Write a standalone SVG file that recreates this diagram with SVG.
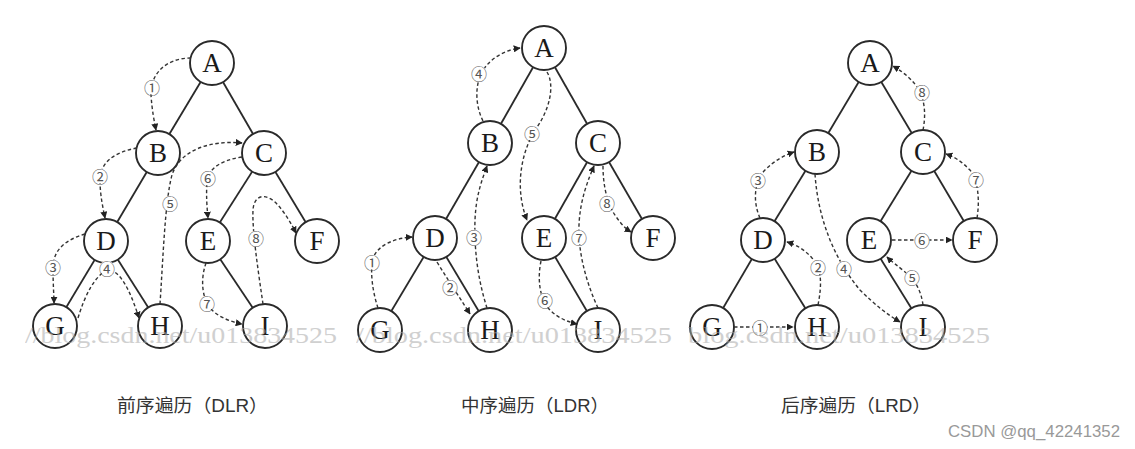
<svg xmlns="http://www.w3.org/2000/svg" width="1135" height="449" viewBox="0 0 1135 449">
<style>
.edge{stroke:#2a2a2a;stroke-width:1.8;fill:none}
.trav{stroke:#333;stroke-width:1.4;fill:none;stroke-dasharray:3.5 2.5}
.arr{marker-end:url(#ah)}
.node circle{fill:#fff;stroke:#2a2a2a;stroke-width:1.9}
.node text{font-family:"Liberation Serif","DejaVu Serif",serif;font-size:27px;fill:#1a1a1a;text-anchor:middle}
.lbl circle{fill:#fff;stroke:none}
.lbl text{font-family:"Noto Sans CJK SC","DejaVu Sans",sans-serif;font-size:16px;fill:#555;text-anchor:middle;dominant-baseline:central}
.cap{font-family:"Liberation Sans","Noto Sans CJK SC",sans-serif;font-size:18px;fill:#333}
.wm{font-family:"Liberation Serif",serif;font-size:24px;fill:#aaa;opacity:0.55}
</style>
<defs>
<marker id="ah" viewBox="0 0 10 10" refX="9" refY="5" markerWidth="7" markerHeight="7" markerUnits="userSpaceOnUse" orient="auto">
<path d="M0,0 L10,5 L0,10 z" fill="#222"/>
</marker>
</defs>

<g id="tree-edges">
<!-- tree 1 -->
<line class="edge" x1="212" y1="63" x2="158" y2="153"/>
<line class="edge" x1="212" y1="63" x2="264" y2="153"/>
<line class="edge" x1="158" y1="153" x2="106" y2="241"/>
<line class="edge" x1="264" y1="153" x2="208" y2="241"/>
<line class="edge" x1="264" y1="153" x2="317" y2="241"/>
<line class="edge" x1="106" y1="241" x2="55" y2="326"/>
<line class="edge" x1="106" y1="241" x2="160" y2="326"/>
<line class="edge" x1="208" y1="241" x2="265" y2="326"/>
<!-- tree 2 -->
<line class="edge" x1="544" y1="48" x2="490" y2="143"/>
<line class="edge" x1="544" y1="48" x2="598" y2="143"/>
<line class="edge" x1="490" y1="143" x2="435" y2="238"/>
<line class="edge" x1="598" y1="143" x2="544" y2="238"/>
<line class="edge" x1="598" y1="143" x2="653" y2="238"/>
<line class="edge" x1="435" y1="238" x2="380" y2="330"/>
<line class="edge" x1="435" y1="238" x2="490" y2="330"/>
<line class="edge" x1="544" y1="238" x2="598" y2="330"/>
<!-- tree 3 -->
<line class="edge" x1="870" y1="63" x2="817" y2="152"/>
<line class="edge" x1="870" y1="63" x2="923" y2="152"/>
<line class="edge" x1="817" y1="152" x2="763" y2="240"/>
<line class="edge" x1="923" y1="152" x2="869" y2="240"/>
<line class="edge" x1="923" y1="152" x2="975" y2="240"/>
<line class="edge" x1="763" y1="240" x2="712" y2="327"/>
<line class="edge" x1="763" y1="240" x2="817" y2="327"/>
<line class="edge" x1="869" y1="240" x2="923" y2="327"/>
</g>

<!-- tree 1 nodes -->
<g id="t1-A" class="node"><circle cx="212" cy="63" r="22"/><text x="212" y="72">A</text></g>
<g id="t1-B" class="node"><circle cx="158" cy="153" r="22"/><text x="158" y="162">B</text></g>
<g id="t1-C" class="node"><circle cx="264" cy="153" r="22"/><text x="264" y="162">C</text></g>
<g id="t1-D" class="node"><circle cx="106" cy="241" r="22"/><text x="106" y="250">D</text></g>
<g id="t1-E" class="node"><circle cx="208" cy="241" r="22"/><text x="208" y="250">E</text></g>
<g id="t1-F" class="node"><circle cx="317" cy="241" r="22"/><text x="317" y="250">F</text></g>
<g id="t1-G" class="node"><circle cx="55" cy="326" r="22"/><text x="55" y="335">G</text></g>
<g id="t1-H" class="node"><circle cx="160" cy="326" r="22"/><text x="160" y="335">H</text></g>
<g id="t1-I" class="node"><circle cx="265" cy="326" r="22"/><text x="265" y="335">I</text></g>

<!-- tree 2 nodes -->
<g id="t2-A" class="node"><circle cx="544" cy="48" r="22"/><text x="544" y="57">A</text></g>
<g id="t2-B" class="node"><circle cx="490" cy="143" r="22"/><text x="490" y="152">B</text></g>
<g id="t2-C" class="node"><circle cx="598" cy="143" r="22"/><text x="598" y="152">C</text></g>
<g id="t2-D" class="node"><circle cx="435" cy="238" r="22"/><text x="435" y="247">D</text></g>
<g id="t2-E" class="node"><circle cx="544" cy="238" r="22"/><text x="544" y="247">E</text></g>
<g id="t2-F" class="node"><circle cx="653" cy="238" r="22"/><text x="653" y="247">F</text></g>
<g id="t2-G" class="node"><circle cx="380" cy="330" r="22"/><text x="380" y="339">G</text></g>
<g id="t2-H" class="node"><circle cx="490" cy="330" r="22"/><text x="490" y="339">H</text></g>
<g id="t2-I" class="node"><circle cx="598" cy="330" r="22"/><text x="598" y="339">I</text></g>

<!-- tree 3 nodes -->
<g id="t3-A" class="node"><circle cx="870" cy="63" r="22"/><text x="870" y="72">A</text></g>
<g id="t3-B" class="node"><circle cx="817" cy="152" r="22"/><text x="817" y="161">B</text></g>
<g id="t3-C" class="node"><circle cx="923" cy="152" r="22"/><text x="923" y="161">C</text></g>
<g id="t3-D" class="node"><circle cx="763" cy="240" r="22"/><text x="763" y="249">D</text></g>
<g id="t3-E" class="node"><circle cx="869" cy="240" r="22"/><text x="869" y="249">E</text></g>
<g id="t3-F" class="node"><circle cx="975" cy="240" r="22"/><text x="975" y="249">F</text></g>
<g id="t3-G" class="node"><circle cx="712" cy="327" r="22"/><text x="712" y="336">G</text></g>
<g id="t3-H" class="node"><circle cx="817" cy="327" r="22"/><text x="817" y="336">H</text></g>
<g id="t3-I" class="node"><circle cx="923" cy="327" r="22"/><text x="923" y="336">I</text></g>

<g id="traversal-connectors">
<!-- tree 1 preorder -->
<path class="trav arr" d="M191,58 C165,58 150,75 151,95 C152,110 154,120 156,130"/>
<path class="trav arr" d="M137,148 C115,152 100,162 100,180 C100,195 103,208 105,218"/>
<path class="trav arr" d="M85,234 C65,240 53,250 53,268 C53,285 54,295 54,303"/>
<path class="trav arr" d="M78,318 C85,295 95,275 108,270 C120,270 130,290 139,318"/>
<path class="trav arr" d="M160,304 C163,260 165,200 172,175 C180,150 210,140 242,143"/>
<path class="trav arr" d="M242,157 C222,160 208,168 207,182 C206,195 207,208 208,218"/>
<path class="trav arr" d="M206,263 C200,280 202,300 212,310 C220,318 232,322 242,324"/>
<path class="trav arr" d="M263,304 C258,270 252,230 253,210 C254,195 265,193 275,202 C285,212 292,225 296,233"/>
<!-- tree 2 inorder -->
<path class="trav arr" d="M378,308 C372,290 370,270 373,258 C378,245 395,238 412,237"/>
<path class="trav arr" d="M437,262 C448,280 458,295 470,314"/>
<path class="trav arr" d="M487,308 C478,280 474,250 475,220 C476,195 482,180 487,166"/>
<path class="trav arr" d="M483,121 C475,105 475,85 482,72 C490,58 505,50 520,48"/>
<path class="trav arr" d="M547,72 C555,85 550,110 535,130 C520,155 515,190 527,220"/>
<path class="trav arr" d="M541,261 C537,280 540,300 550,310 C558,318 568,322 577,324"/>
<path class="trav arr" d="M598,308 C585,280 578,250 579,225 C580,200 588,180 594,166"/>
<path class="trav arr" d="M603,166 C603,185 607,205 617,218 C622,225 626,229 631,232"/>
<!-- tree 3 postorder -->
<path class="trav arr" d="M734,327 L793,327"/>
<path class="trav arr" d="M818,305 C822,285 822,268 812,258 C805,250 797,245 787,242"/>
<path class="trav arr" d="M760,218 C752,200 755,180 765,170 C775,160 785,155 794,152"/>
<path class="trav arr" d="M815,174 C818,220 835,260 860,290 C875,305 888,315 900,322"/>
<path class="trav arr" d="M923,305 C921,290 915,280 905,272 C898,266 892,262 887,257"/>
<path class="trav arr" d="M892,240 L952,240"/>
<path class="trav arr" d="M977,218 C980,200 978,180 970,170 C962,162 955,157 946,154"/>
<path class="trav arr" d="M923,130 C926,115 925,100 918,88 C910,77 900,70 893,66"/>
</g>

<g id="step-labels">
<g class="lbl"><circle cx="152" cy="87" r="7.5"/><text x="152" y="87">①</text></g>
<g class="lbl"><circle cx="100" cy="176" r="7.5"/><text x="100" y="176">②</text></g>
<g class="lbl"><circle cx="53" cy="267" r="7.5"/><text x="53" y="267">③</text></g>
<g class="lbl"><circle cx="107" cy="268" r="7.5"/><text x="107" y="268">④</text></g>
<g class="lbl"><circle cx="170" cy="203" r="7.5"/><text x="170" y="203">⑤</text></g>
<g class="lbl"><circle cx="208" cy="178" r="7.5"/><text x="208" y="178">⑥</text></g>
<g class="lbl"><circle cx="207" cy="303" r="7.5"/><text x="207" y="303">⑦</text></g>
<g class="lbl"><circle cx="256" cy="238" r="7.5"/><text x="256" y="238">⑧</text></g>

<g class="lbl"><circle cx="372" cy="262" r="7.5"/><text x="372" y="262">①</text></g>
<g class="lbl"><circle cx="450" cy="287" r="7.5"/><text x="450" y="287">②</text></g>
<g class="lbl"><circle cx="474" cy="237" r="7.5"/><text x="474" y="237">③</text></g>
<g class="lbl"><circle cx="479" cy="73" r="7.5"/><text x="479" y="73">④</text></g>
<g class="lbl"><circle cx="532" cy="133" r="7.5"/><text x="532" y="133">⑤</text></g>
<g class="lbl"><circle cx="545" cy="300" r="7.5"/><text x="545" y="300">⑥</text></g>
<g class="lbl"><circle cx="579" cy="237" r="7.5"/><text x="579" y="237">⑦</text></g>
<g class="lbl"><circle cx="607" cy="203" r="7.5"/><text x="607" y="203">⑧</text></g>

<g class="lbl"><circle cx="760" cy="327" r="7.5"/><text x="760" y="327">①</text></g>
<g class="lbl"><circle cx="818" cy="267" r="7.5"/><text x="818" y="267">②</text></g>
<g class="lbl"><circle cx="758" cy="180" r="7.5"/><text x="758" y="180">③</text></g>
<g class="lbl"><circle cx="844" cy="268" r="7.5"/><text x="844" y="268">④</text></g>
<g class="lbl"><circle cx="912" cy="277" r="7.5"/><text x="912" y="277">⑤</text></g>
<g class="lbl"><circle cx="922" cy="240" r="7.5"/><text x="922" y="240">⑥</text></g>
<g class="lbl"><circle cx="976" cy="179" r="7.5"/><text x="976" y="179">⑦</text></g>
<g class="lbl"><circle cx="922" cy="92" r="7.5"/><text x="922" y="92">⑧</text></g>
</g>

<g id="watermark">
<text class="wm" x="25" y="343" textLength="312" lengthAdjust="spacingAndGlyphs">//blog.csdn.net/u013834525</text>
<text class="wm" x="356" y="343" textLength="316" lengthAdjust="spacingAndGlyphs">//blog.csdn.net/u013834525</text>
<text class="wm" x="688" y="343" textLength="302" lengthAdjust="spacingAndGlyphs">blog.csdn.net/u013834525</text>
</g>

<g id="captions">
<text class="cap" x="117" y="412" textLength="151" lengthAdjust="spacingAndGlyphs">前序遍历（DLR）</text>
<text class="cap" x="461" y="412" textLength="148" lengthAdjust="spacingAndGlyphs">中序遍历（LDR）</text>
<text class="cap" x="781" y="412" textLength="150" lengthAdjust="spacingAndGlyphs">后序遍历（LRD）</text>
<text x="948" y="437" textLength="172" lengthAdjust="spacingAndGlyphs" style="font-family:'Liberation Sans',sans-serif;font-size:17px;fill:#999">CSDN @qq_42241352</text>
</g>
</svg>
